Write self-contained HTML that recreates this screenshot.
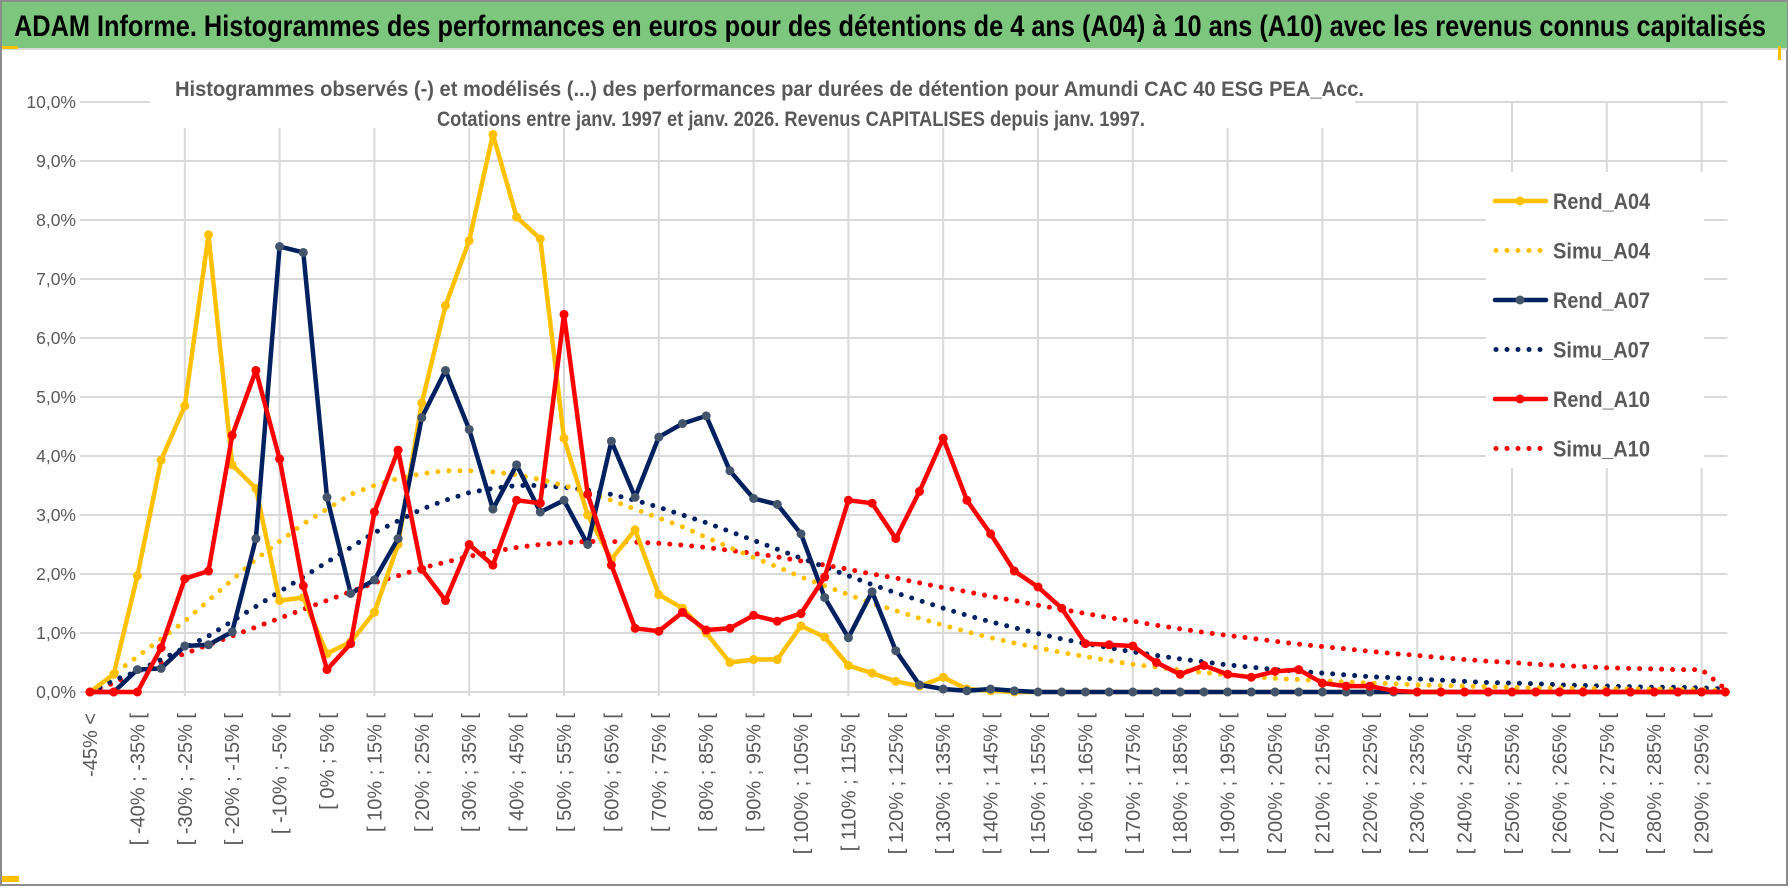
<!DOCTYPE html>
<html><head><meta charset="utf-8">
<style>
html,body{margin:0;padding:0;background:#fff;}
svg{display:block;font-family:"Liberation Sans",sans-serif;}
</style></head>
<body>
<svg id="chart" width="1790" height="888" viewBox="0 0 1790 888" xmlns="http://www.w3.org/2000/svg">
  <rect x="0" y="0" width="1790" height="888" fill="#ffffff"/>
  <rect x="1" y="1" width="1786" height="884" fill="none" stroke="#8c8c8c" stroke-width="2"/>
  <rect x="2" y="2" width="1785" height="46" fill="#7dc67e"/>
  <line x1="2" y1="49" x2="1787" y2="49" stroke="#d9d9d9" stroke-width="2"/>
  <rect x="2" y="46" width="16" height="3" fill="#ffc000"/>
  <rect x="1778" y="46" width="3" height="14" fill="#ffc000"/>
  <rect x="2" y="876" width="17" height="6" fill="#ffc000"/>
  <text x="14" y="36" font-size="30" font-weight="bold" fill="#000" textLength="1752" lengthAdjust="spacingAndGlyphs">ADAM Informe. Histogrammes des performances en euros pour des détentions de 4 ans (A04) à 10 ans (A10) avec les revenus connus capitalisés</text>
  <g id="grid"></g>
  <g id="yaxis"></g>
  <g id="xaxis"></g>
  <rect x="150" y="68" width="1205" height="60" fill="#fff"/>
  <text x="175" y="96" font-size="21" font-weight="bold" fill="#595959" textLength="1189" lengthAdjust="spacingAndGlyphs">Histogrammes observés (-) et modélisés (...) des performances par durées de détention pour Amundi CAC 40 ESG PEA_Acc.</text>
  <text x="437" y="126" font-size="21" font-weight="bold" fill="#595959" textLength="708" lengthAdjust="spacingAndGlyphs">Cotations entre janv. 1997 et janv. 2026. Revenus CAPITALISES depuis janv. 1997.</text>
  <g id="series"></g>
  <rect x="1486" y="172" width="218" height="296" fill="#fff"/>
  <g id="legend"></g>
</svg>
<script>
const NS = "http://www.w3.org/2000/svg";
const yTicks = [0,1,2,3,4,5,6,7,8,9,10];
const yTickLabels = ["0,0%","1,0%","2,0%","3,0%","4,0%","5,0%","6,0%","7,0%","8,0%","9,0%","10,0%"];
const categories = [];
categories.push("-45% <");
for (let k = -45; k < 300; k += 5) categories.push("[ " + k + "% ; " + (k + 5) + "% [");

const rendA04 = [0,0.3,1.97,3.93,4.85,7.75,3.85,3.45,1.55,1.6,0.65,0.85,1.35,2.5,4.9,6.55,7.65,9.45,8.05,7.68,4.3,3.0,2.25,2.75,1.65,1.42,1.0,0.5,0.55,0.55,1.12,0.93,0.45,0.32,0.18,0.1,0.25,0.05,0.02,0,0,0,0,0,0,0,0,0,0,0,0,0,0,0,0,0,0,0,0,0,0,0,0,0,0,0,0,0,0,0];
const simuA04 = [0,0.3,0.6,0.9,1.2,1.55,1.9,2.25,2.55,2.85,3.1,3.35,3.5,3.62,3.7,3.75,3.75,3.73,3.68,3.6,3.5,3.38,3.25,3.1,2.95,2.8,2.62,2.45,2.28,2.12,1.95,1.8,1.65,1.5,1.38,1.25,1.13,1.02,0.92,0.83,0.75,0.67,0.6,0.53,0.47,0.42,0.37,0.33,0.29,0.26,0.23,0.21,0.19,0.17,0.15,0.14,0.12,0.11,0.1,0.09,0.08,0.07,0.07,0.06,0.06,0.05,0.05,0.04,0.04,0.02];
const rendA07 = [0,0,0.38,0.4,0.78,0.8,1.02,2.6,7.55,7.45,3.3,1.67,1.9,2.6,4.65,5.45,4.45,3.1,3.85,3.05,3.25,2.5,4.25,3.3,4.32,4.55,4.68,3.75,3.28,3.18,2.68,1.6,0.92,1.7,0.7,0.12,0.05,0.02,0.05,0.02,0,0,0,0,0,0,0,0,0,0,0,0,0,0,0,0,0,0,0,0,0,0,0,0,0,0,0,0,0,0];
const simuA07 = [0,0.2,0.35,0.55,0.75,0.95,1.2,1.45,1.7,1.95,2.2,2.45,2.7,2.9,3.1,3.25,3.38,3.45,3.5,3.5,3.47,3.42,3.35,3.25,3.13,3.0,2.87,2.72,2.57,2.42,2.27,2.12,1.97,1.82,1.68,1.55,1.42,1.3,1.19,1.09,0.99,0.9,0.82,0.75,0.68,0.62,0.56,0.51,0.46,0.42,0.38,0.35,0.32,0.29,0.26,0.24,0.22,0.2,0.18,0.16,0.15,0.14,0.12,0.11,0.1,0.09,0.08,0.08,0.07,0.05];
const rendA10 = [0,0,0,0.75,1.92,2.05,4.35,5.45,3.95,1.8,0.38,0.82,3.05,4.1,2.08,1.55,2.5,2.15,3.25,3.2,6.4,3.35,2.15,1.08,1.03,1.35,1.05,1.08,1.3,1.2,1.33,1.95,3.25,3.2,2.6,3.4,4.3,3.25,2.68,2.05,1.78,1.42,0.82,0.8,0.78,0.5,0.3,0.45,0.3,0.25,0.35,0.38,0.15,0.1,0.1,0.02,0,0,0,0,0,0,0,0,0,0,0,0,0,0];
const simuA10 = [0,0.15,0.35,0.5,0.65,0.8,0.95,1.1,1.25,1.4,1.55,1.7,1.85,1.97,2.1,2.2,2.3,2.38,2.45,2.5,2.53,2.55,2.55,2.54,2.52,2.49,2.45,2.4,2.35,2.29,2.22,2.15,2.08,2.0,1.93,1.85,1.77,1.7,1.62,1.55,1.47,1.4,1.33,1.26,1.2,1.13,1.07,1.01,0.96,0.91,0.86,0.81,0.77,0.73,0.69,0.65,0.62,0.58,0.55,0.52,0.5,0.47,0.45,0.43,0.41,0.4,0.39,0.38,0.38,0.05];

const X0 = 90, DX = 23.7, Y0 = 692, DY = 59;
function xPos(i){ return X0 + i * DX; }
function yPos(v){ return Y0 - v * DY; }
function mk(tag, attrs, parent){
  const e = document.createElementNS(NS, tag);
  for (const k in attrs) e.setAttribute(k, attrs[k]);
  parent.appendChild(e);
  return e;
}
const grid = document.getElementById("grid");
const yaxis = document.getElementById("yaxis");
const xaxis = document.getElementById("xaxis");
const xEnd = xPos(categories.length - 1) + 2;
yTicks.forEach((t, k) => {
  const gl = mk("line", {x1: X0 - 10, x2: xEnd, y1: yPos(t), y2: yPos(t), stroke: "#d9d9d9", "stroke-width": 2}, grid);
  
  
  const tl = mk("text", {x: 76, y: yPos(t) + 6, "text-anchor": "end", "font-size": 17.5, fill: "#595959"}, yaxis);
  tl.textContent = yTickLabels[k];
  
  
});
for (let i = 4; i < categories.length; i += 4) {
  const vl = mk("line", {x1: xPos(i), x2: xPos(i), y1: yPos(10), y2: Y0 + 4, stroke: "#d9d9d9", "stroke-width": 2}, grid);
  
  
}
categories.forEach((c, i) => {
  if (i % 2 !== 0) return;
  const t = mk("text", {x: 0, y: 0, "text-anchor": "end", "font-size": 20, fill: "#595959",
    transform: "translate(" + (xPos(i) + 7) + ",713) rotate(-90)"}, xaxis);
  t.textContent = c;
  
  
});
const series = document.getElementById("series");
function pathOf(arr){ return arr.map((v, i) => (i ? "L" : "M") + xPos(i).toFixed(1) + "," + yPos(v).toFixed(1)).join(""); }
function drawDotted(arr, color, name){
  const p = mk("path", {d: pathOf(arr), fill: "none", stroke: color, "stroke-width": 5, "stroke-linecap": "round", "stroke-dasharray": "0 11"}, series);
  
  
}
function drawSolid(arr, color, marker, name){
  const g = mk("g", {}, series);
  
  
  const p = mk("path", {d: pathOf(arr), fill: "none", stroke: color, "stroke-width": 4.5, "stroke-linejoin": "round"}, g);
  
  
  arr.forEach((v, i) => {
    const c = mk("circle", {cx: xPos(i), cy: yPos(v), r: 4.5, fill: marker}, g);
    
    
  });
}
drawDotted(simuA10, "#ff0000", "simu-a10");
drawDotted(simuA07, "#002060", "simu-a07");
drawDotted(simuA04, "#ffc000", "simu-a04");
drawSolid(rendA04, "#ffc000", "#ffc000", "rend-a04");
drawSolid(rendA07, "#002060", "#44546a", "rend-a07");
drawSolid(rendA10, "#ff0000", "#ff0000", "rend-a10");

const legendNames = ["Rend_A04","Simu_A04","Rend_A07","Simu_A07","Rend_A10","Simu_A10"];
const legendColors = ["#ffc000","#ffc000","#002060","#002060","#ff0000","#ff0000"];
const legendMarkers = ["#ffc000",null,"#44546a",null,"#ff0000",null];
const legend = document.getElementById("legend");
legendNames.forEach((n, k) => {
  const y = 201 + k * 49.5;
  const g = mk("g", {}, legend);
  
  
  if (legendMarkers[k]) {
    mk("line", {x1: 1495, x2: 1546, y1: y, y2: y, stroke: legendColors[k], "stroke-width": 4.5, "stroke-linecap": "round"}, g);
    mk("circle", {cx: 1520, cy: y, r: 4.5, fill: legendMarkers[k]}, g);
  } else {
    mk("line", {x1: 1496, x2: 1546, y1: y, y2: y, stroke: legendColors[k], "stroke-width": 5, "stroke-linecap": "round", "stroke-dasharray": "0 11"}, g);
  }
  const t = mk("text", {x: 1553, y: y + 8, "font-size": 22, "font-weight": "bold", fill: "#595959", textLength: 97, lengthAdjust: "spacingAndGlyphs"}, g);
  t.textContent = n;
});
</script>
</body></html>
